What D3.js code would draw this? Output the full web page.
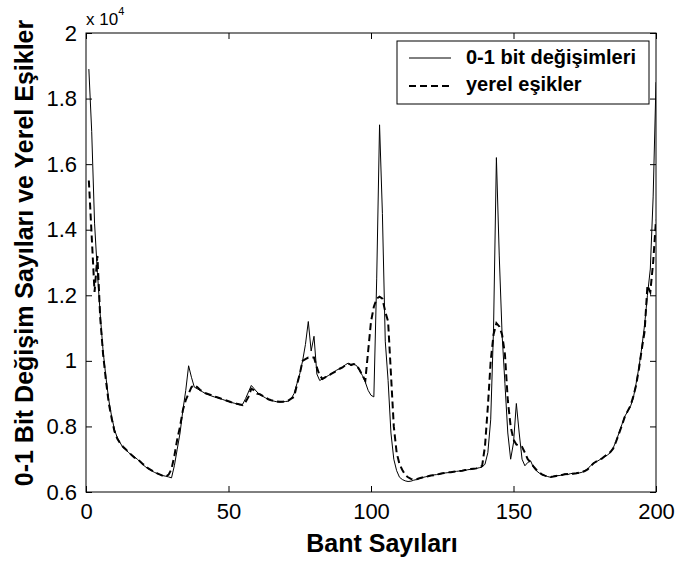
<!DOCTYPE html>
<html>
<head>
<meta charset="utf-8">
<script src="https://cdn.jsdelivr.net/npm/d3@7"></script>
<style>
body { margin: 0; background: #fff; }
svg { font-family: "Liberation Sans", Arial, sans-serif; }
</style>
</head>
<body>
<script>
// bant numaralari 1..200
var bantlar = d3.range(1, 201);

// 0-1 bit degisimleri (duz cizgi)
var bitDegisim = [
18900,17000,14200,12700,11400,10300,9500,8800,8300,7900,
7650,7500,7350,7280,7200,7120,7070,7000,6920,6830,
6760,6700,6650,6600,6560,6530,6500,6480,6460,6430,
6800,7300,7800,8500,9100,9850,9500,9200,9150,9100,
9050,9000,8970,8930,8900,8880,8850,8820,8790,8760,
8730,8710,8680,8660,8680,8850,9050,9250,9150,9050,
8970,8920,8870,8820,8790,8770,8750,8740,8750,8760,
8770,8850,9000,9300,9600,10000,10500,11200,10300,10750,
9600,9400,9450,9500,9550,9600,9660,9720,9760,9800,
9880,9930,9850,9900,9850,9700,9550,9350,9100,8950,
8900,12500,17200,14500,10600,9400,7800,7000,6650,6450,
6380,6340,6320,6330,6360,6380,6410,6440,6460,6480,
6500,6520,6530,6550,6560,6580,6590,6600,6620,6630,
6640,6650,6660,6680,6690,6710,6720,6740,6760,6850,
7200,8200,11000,16200,13200,10800,9300,7800,7000,7500,
8700,7800,7000,6800,6900,6950,6750,6650,6580,6520,
6500,6470,6450,6480,6500,6500,6520,6550,6530,6560,
6570,6560,6580,6600,6650,6700,6800,6880,6920,6970,
7030,7080,7130,7200,7350,7550,7800,8050,8300,8450,
8600,8850,9300,9800,10400,11100,12000,12800,15000,18500
];

// yerel esikler (kesikli cizgi)
var yerelEsik = [
15500,13800,12100,13200,11300,10200,9400,8700,8250,7850,
7620,7480,7380,7300,7210,7130,7050,7020,6930,6850,
6780,6710,6660,6610,6570,6530,6490,6470,6530,6700,
7100,7600,8000,8500,8800,9000,9200,9260,9200,9120,
9060,9010,8980,8950,8910,8890,8860,8830,8800,8770,
8740,8720,8690,8670,8650,8750,8900,9150,9100,9000,
8980,8930,8880,8830,8800,8780,8760,8750,8750,8770,
8790,8850,8900,9260,9600,10000,10050,10100,10100,10100,
9800,9550,9450,9500,9540,9600,9650,9700,9760,9800,
9870,9920,9880,9900,9860,9720,9560,9400,10300,11200,
11650,11900,11960,11900,11500,11200,9600,8000,7200,6850,
6670,6520,6450,6400,6380,6390,6420,6440,6470,6480,
6500,6510,6540,6550,6570,6580,6600,6600,6620,6630,
6640,6650,6670,6680,6700,6710,6720,6750,6800,7400,
8600,10000,10800,11150,11050,10800,10200,8800,8000,7600,
7450,7400,7380,7200,7000,6900,6780,6680,6600,6540,
6500,6480,6460,6470,6490,6510,6520,6540,6550,6560,
6560,6570,6590,6610,6640,6690,6780,6870,6930,6980,
7020,7090,7150,7220,7330,7540,7780,8020,8280,8460,
8620,8900,9250,9750,10350,10900,12300,12100,13000,14300
];

var xTicks = [0, 50, 100, 150, 200];
var yTicks = [6000, 8000, 10000, 12000, 14000, 16000, 18000, 20000];
var yTickLabels = ["0.6", "0.8", "1", "1.2", "1.4", "1.6", "1.8", "2"];
var seriesNames = ["0-1 bit değişimleri", "yerel eşikler"];

var W = 676, H = 565;
var pL = 86, pR = 656, pT = 33, pB = 492;

var svg = d3.select("body").append("svg")
    .attr("width", W)
    .attr("height", H);

svg.append("rect").attr("width", W).attr("height", H).attr("fill", "#fff");

var x = d3.scaleLinear().domain([0, 200]).range([pL, pR]);
var y = d3.scaleLinear().domain([6000, 20000]).range([pB, pT]);

svg.append("defs").append("clipPath").attr("id", "alan")
    .append("rect")
    .attr("x", pL).attr("y", pT)
    .attr("width", pR - pL).attr("height", pB - pT);

// eksenler (MATLAB tarzi, tikler iceride)
var yFmt = function (d) { return yTickLabels[yTicks.indexOf(d)]; };

var gx = svg.append("g")
    .attr("transform", "translate(0," + pB + ")")
    .call(d3.axisBottom(x).tickValues(xTicks).tickSizeInner(-6).tickSizeOuter(0).tickPadding(11));
var gy = svg.append("g")
    .attr("transform", "translate(" + pL + ",0)")
    .call(d3.axisLeft(y).tickValues(yTicks).tickFormat(yFmt).tickSizeInner(-6).tickSizeOuter(0).tickPadding(9));
var gt = svg.append("g")
    .attr("transform", "translate(0," + pT + ")")
    .call(d3.axisTop(x).tickValues(xTicks).tickFormat("").tickSizeInner(-6).tickSizeOuter(0));
var gr = svg.append("g")
    .attr("transform", "translate(" + pR + ",0)")
    .call(d3.axisRight(y).tickValues(yTicks).tickFormat("").tickSizeInner(-6).tickSizeOuter(0));

[gx, gy, gt, gr].forEach(function (g) {
    g.select(".domain").remove();
    g.selectAll("line").attr("stroke", "#000");
    g.selectAll("text").attr("fill", "#000").style("font-size", "22px");
});

svg.append("rect")
    .attr("x", pL).attr("y", pT)
    .attr("width", pR - pL).attr("height", pB - pT)
    .attr("fill", "none").attr("stroke", "#000").attr("stroke-width", 1);

// cizgiler
var line = d3.line()
    .x(function (d, i) { return x(bantlar[i]); })
    .y(function (d) { return y(d); });

var plot = svg.append("g").attr("clip-path", "url(#alan)");

plot.append("path")
    .datum(yerelEsik)
    .attr("d", line)
    .attr("fill", "none")
    .attr("stroke", "#000")
    .attr("stroke-width", 2)
    .attr("stroke-dasharray", "7,4");

plot.append("path")
    .datum(bitDegisim)
    .attr("d", line)
    .attr("fill", "none")
    .attr("stroke", "#000")
    .attr("stroke-width", 1);

// x 10^4
var us = svg.append("text")
    .attr("x", 86).attr("y", 25)
    .style("font-size", "17px");
us.append("tspan").text("x 10");
us.append("tspan").attr("dy", -10).style("font-size", "11px").text("4");

// eksen basliklari
svg.append("text")
    .attr("x", 382).attr("y", 552)
    .attr("text-anchor", "middle")
    .style("font-size", "25px").style("font-weight", "bold")
    .text("Bant Sayıları");

svg.append("text")
    .attr("transform", "translate(33,253) rotate(-90)")
    .attr("text-anchor", "middle")
    .style("font-size", "25px").style("font-weight", "bold")
    .text("0-1 Bit Değişim Sayıları ve Yerel Eşikler");

// lejant
var leg = svg.append("g");
leg.append("rect")
    .attr("x", 397).attr("y", 41)
    .attr("width", 252).attr("height", 63)
    .attr("fill", "#fff").attr("stroke", "#000").attr("stroke-width", 1);

leg.append("line")
    .attr("x1", 409).attr("x2", 451).attr("y1", 58).attr("y2", 58)
    .attr("stroke", "#000").attr("stroke-width", 1);
leg.append("line")
    .attr("x1", 409).attr("x2", 451).attr("y1", 86).attr("y2", 86)
    .attr("stroke", "#000").attr("stroke-width", 2)
    .attr("stroke-dasharray", "7,4");

leg.selectAll("text.ad")
    .data(seriesNames)
    .enter().append("text")
    .attr("class", "ad")
    .attr("x", 466)
    .attr("y", function (d, i) { return 64 + i * 27; })
    .style("font-size", "20px").style("font-weight", "bold")
    .text(function (d) { return d; });
</script>
</body>
</html>
